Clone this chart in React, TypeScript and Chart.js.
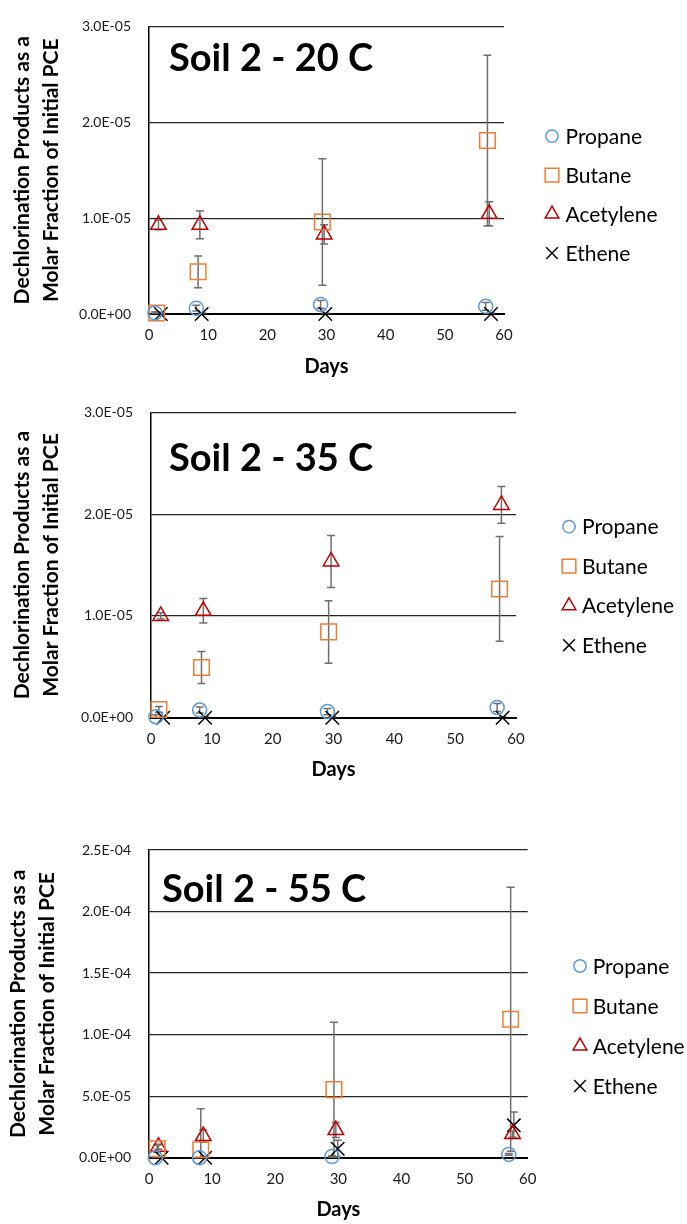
import React, { useEffect, useRef } from 'react';
import { Chart, registerables } from 'chart.js';
import { drawPoint } from 'chart.js/helpers';

Chart.register(...registerables);

const FONT = 'Lato';

// ---------- shared series info ----------
const seriesNames = ['Propane', 'Butane', 'Acetylene', 'Ethene'];
const seriesColors = ['#5B9BD5', '#ED7D31', '#C00000', '#000000'];
const seriesStyles = ['circle', 'rect', 'triangle', 'crossRot'];
const seriesRadius = [7, 11, 9, 9.5];

const xTickLabels = ['0', '10', '20', '30', '40', '50', '60'];
const yTitleLines = ['Dechlorination Products as a', 'Molar Fraction of Initial PCE'];

// ---------- Soil 2 - 20 C ----------
const yTicks20 = ['0.0E+00', '1.0E-05', '2.0E-05', '3.0E-05'];
const days20Propane = [1.0, 8.0, 29.0, 56.9];
const days20Butane = [1.3, 8.3, 29.3, 57.2];
const days20Acetylene = [1.6, 8.6, 29.6, 57.5];
const days20Ethene = [2.0, 8.9, 29.8, 57.8];
const propane20 = [1e-7, 6e-7, 1.0e-6, 8e-7];
const propane20Err = [1e-7, 3e-7, 4e-7, 4e-7];
const butane20 = [1e-7, 4.4e-6, 9.6e-6, 1.81e-5];
const butane20Err = [1e-7, 1.65e-6, 6.6e-6, 8.9e-6];
const acetylene20 = [9.3e-6, 9.3e-6, 8.3e-6, 1.045e-5];
const acetylene20Err = [5e-7, 1.45e-6, 1.0e-6, 1.25e-6];
const ethene20 = [0, 0, 0, 0];
const ethene20Err = [1e-7, 1e-7, 1e-7, 1e-7];

// ---------- Soil 2 - 35 C ----------
const yTicks35 = ['0.0E+00', '1.0E-05', '2.0E-05', '3.0E-05'];
const days35Propane = [0.8, 8.0, 29.0, 56.9];
const days35Butane = [1.3, 8.3, 29.2, 57.3];
const days35Acetylene = [1.6, 8.6, 29.6, 57.6];
const days35Ethene = [2.0, 8.9, 29.8, 57.8];
const propane35 = [1e-7, 7.5e-7, 6e-7, 1.0e-6];
const propane35Err = [2e-7, 3e-7, 3e-7, 4e-7];
const butane35 = [8e-7, 4.93e-6, 8.43e-6, 1.265e-5];
const butane35Err = [3e-7, 1.57e-6, 3.07e-6, 5.15e-6];
const acetylene35 = [1.0e-5, 1.05e-5, 1.535e-5, 2.09e-5];
const acetylene35Err = [3e-7, 1.2e-6, 2.55e-6, 1.8e-6];
const ethene35 = [0, 0, 0, 0];
const ethene35Err = [1e-7, 1e-7, 1e-7, 1e-7];

// ---------- Soil 2 - 55 C ----------
const yTicks55 = ['0.0E+00', '5.0E-05', '1.0E-04', '1.5E-04', '2.0E-04', '2.5E-04'];
const days55Propane = [1.0, 8.0, 29.0, 57.0];
const days55Butane = [1.3, 8.2, 29.3, 57.3];
const days55Acetylene = [1.5, 8.6, 29.6, 57.6];
const days55Ethene = [2.0, 8.9, 29.9, 57.8];
const propane55 = [0, 0, 1.0e-6, 2.7e-6];
const propane55Err = [3e-7, 3e-7, 5e-7, 8e-7];
const butane55 = [7.3e-6, 6.5e-6, 5.53e-5, 1.125e-4];
const butane55Err = [3e-6, 3.33e-5, 5.47e-5, 1.073e-4];
const acetylene55 = [8.9e-6, 1.76e-5, 2.25e-5, 1.92e-5];
const acetylene55Err = [2e-6, 5e-6, 6e-6, 2.5e-6];
const ethene55 = [0, 0, 7.3e-6, 2.63e-5];
const ethene55Err = [5e-7, 5e-7, 6.8e-6, 1.08e-5];

type Panel = {
  title: string;
  canvasTop: number;
  canvasHeight: number;
  area: { left: number; top: number; right: number; bottom: number };
  yMax: number;
  yStep: number;
  yTicks: string[];
  days: number[][];
  values: number[][];
  errors: number[][];
  titleDx: number;
  titleDy: number;
  yTitlePad: number;
  xTitlePad: number;
  legendDx: number;
  legendTextDx: number;
  legendDy: number;
  legendGap: number;
  legendFont: number;
};

const panels: Panel[] = [
  {
    title: 'Soil 2 - 20 C',
    canvasTop: 0,
    canvasHeight: 385,
    area: { left: 149, top: 17, right: 504, bottom: 314 },
    yMax: 3e-5,
    yStep: 1e-5,
    yTicks: yTicks20,
    days: [days20Propane, days20Butane, days20Acetylene, days20Ethene],
    values: [propane20, butane20, acetylene20, ethene20],
    errors: [propane20Err, butane20Err, acetylene20Err, ethene20Err],
    titleDx: 20,
    titleDy: 32,
    yTitlePad: 7.5,
    xTitlePad: 6,
    legendDx: 48,
    legendTextDx: 13.5,
    legendDy: 109.7,
    legendGap: 39,
    legendFont: 21,
  },
  {
    title: 'Soil 2 - 35 C',
    canvasTop: 385,
    canvasHeight: 405,
    area: { left: 151, top: 412.3, right: 516, bottom: 717.7 },
    yMax: 3e-5,
    yStep: 1e-5,
    yTicks: yTicks35,
    days: [days35Propane, days35Butane, days35Acetylene, days35Ethene],
    values: [propane35, butane35, acetylene35, ethene35],
    errors: [propane35Err, butane35Err, acetylene35Err, ethene35Err],
    titleDx: 18,
    titleDy: 46.7,
    yTitlePad: 8,
    xTitlePad: 8,
    legendDx: 53,
    legendTextDx: 13,
    legendDy: 114.4,
    legendGap: 39.5,
    legendFont: 21,
  },
  {
    title: 'Soil 2 - 55 C',
    canvasTop: 790,
    canvasHeight: 434,
    area: { left: 149, top: 850, right: 527.7, bottom: 1157.7 },
    yMax: 2.5e-4,
    yStep: 5e-5,
    yTicks: yTicks55,
    days: [days55Propane, days55Butane, days55Acetylene, days55Ethene],
    values: [propane55, butane55, acetylene55, ethene55],
    errors: [propane55Err, butane55Err, acetylene55Err, ethene55Err],
    titleDx: 13,
    titleDy: 40,
    yTitlePad: 3.7,
    xTitlePad: 2,
    legendDx: 52.3,
    legendTextDx: 12.7,
    legendDy: 116,
    legendGap: 40,
    legendFont: 21,
  },
];

const errorBarPlugin = {
  id: 'errorBars',
  beforeDatasetsDraw(chart: any, _args: any, opts: any) {
    const { ctx, chartArea, scales } = chart;
    ctx.save();
    ctx.beginPath();
    ctx.rect(chartArea.left, chartArea.top, chartArea.right - chartArea.left, chartArea.bottom - chartArea.top);
    ctx.clip();
    ctx.strokeStyle = opts.color;
    ctx.lineWidth = opts.width;
    const cap = opts.cap;
    chart.data.datasets.forEach((ds: any) => {
      const errs: number[] = ds.errorBars;
      if (!errs) return;
      ds.data.forEach((p: any, i: number) => {
        const e = errs[i];
        const x = scales.x.getPixelForValue(p.x);
        const yTop = scales.y.getPixelForValue(p.y + e);
        const yBot = scales.y.getPixelForValue(p.y - e);
        ctx.beginPath();
        ctx.moveTo(x, yBot);
        ctx.lineTo(x, yTop);
        ctx.moveTo(x - cap, yTop);
        ctx.lineTo(x + cap, yTop);
        ctx.moveTo(x - cap, yBot);
        ctx.lineTo(x + cap, yBot);
        ctx.stroke();
      });
    });
    ctx.restore();
  },
};

const panelTitlePlugin = {
  id: 'panelTitle',
  afterDraw(chart: any, _args: any, opts: any) {
    const { ctx, chartArea } = chart;
    ctx.save();
    ctx.font = `bold ${opts.size}px ${FONT}`;
    ctx.fillStyle = '#000';
    ctx.textAlign = 'left';
    ctx.textBaseline = 'middle';
    ctx.fillText(opts.text, chartArea.left + opts.dx, chartArea.top + opts.dy);
    ctx.restore();
  },
};

const sideLegendPlugin = {
  id: 'sideLegend',
  afterDraw(chart: any, _args: any, opts: any) {
    const { ctx, chartArea } = chart;
    ctx.save();
    chart.data.datasets.forEach((ds: any, i: number) => {
      const y = chartArea.top + opts.dy + i * opts.gap;
      const mx = chartArea.right + opts.dx;
      ctx.strokeStyle = ds.borderColor;
      ctx.fillStyle = 'rgba(0,0,0,0)';
      ctx.lineWidth = 1.5;
      drawPoint(ctx, { pointStyle: ds.pointStyle, radius: ds.pointRadius * 0.88, rotation: 0, borderWidth: 1.5 } as any, mx, y);
      ctx.fillStyle = '#000';
      ctx.font = `${opts.size}px ${FONT}`;
      ctx.textAlign = 'left';
      ctx.textBaseline = 'middle';
      ctx.fillText(ds.label, mx + opts.textDx, y + 1);
    });
    ctx.restore();
  },
};

function PanelChart({ panel }: { panel: Panel }) {
  const ref = useRef<HTMLCanvasElement | null>(null);

  useEffect(() => {
    if (!ref.current) return;
    const p = panel;
    const datasets = seriesNames.map((name, s) => ({
      label: name,
      data: p.days[s].map((d, i) => ({ x: d, y: p.values[s][i] })),
      errorBars: p.errors[s],
      showLine: false,
      clip: false,
      pointStyle: seriesStyles[s],
      pointRadius: seriesRadius[s],
      pointHoverRadius: seriesRadius[s],
      pointBorderWidth: 1.5,
      borderColor: seriesColors[s],
      pointBorderColor: seriesColors[s],
      backgroundColor: 'rgba(0,0,0,0)',
      pointBackgroundColor: 'rgba(0,0,0,0)',
    }));

    const chart = new Chart(ref.current, {
      type: 'scatter',
      data: { datasets: datasets as any },
      plugins: [errorBarPlugin, panelTitlePlugin, sideLegendPlugin],
      options: {
        responsive: false,
        animation: false,
        layout: {
          padding: {
            top: p.area.top - p.canvasTop,
            right: 687 - p.area.right,
            bottom: 0,
            left: 0,
          },
        },
        plugins: {
          legend: { display: false },
          tooltip: { enabled: false },
          errorBars: { color: '#6f6f6f', width: 1.5, cap: 4 },
          panelTitle: { text: p.title, size: 38, dx: p.titleDx, dy: p.titleDy },
          sideLegend: { dx: p.legendDx, textDx: p.legendTextDx, dy: p.legendDy, gap: p.legendGap, size: p.legendFont },
        } as any,
        scales: {
          x: {
            type: 'linear',
            position: 'bottom',
            min: 0,
            max: 60,
            ticks: {
              stepSize: 10,
              padding: 12.6,
              color: '#1a1a1a',
              font: { family: FONT, size: 15 },
              callback: (_v: any, i: number) => xTickLabels[i] ?? '',
            },
            grid: { display: false, drawTicks: false },
            border: { display: true, color: '#000', width: 2 },
            title: {
              display: true,
              text: 'Days',
              color: '#000',
              font: { family: FONT, size: 20, weight: 'bold', lineHeight: 1.2 },
              padding: { top: 0, bottom: p.xTitlePad },
            },
            afterFit: (s: any) => {
              s.height = p.canvasTop + p.canvasHeight - p.area.bottom;
            },
          },
          y: {
            type: 'linear',
            min: 0,
            max: p.yMax,
            ticks: {
              stepSize: p.yStep,
              padding: 18,
              color: '#1a1a1a',
              font: { family: FONT, size: 14 },
              callback: (_v: any, i: number) => p.yTicks[i] ?? '',
            },
            grid: { color: '#262626', lineWidth: 1.2, drawTicks: false },
            border: { display: true, color: '#000', width: 1.5 },
            title: {
              display: true,
              text: yTitleLines,
              color: '#000',
              font: { family: FONT, size: 21, weight: 'bold', lineHeight: 1.38 },
              padding: { top: p.yTitlePad, bottom: 0 },
            },
            afterFit: (s: any) => {
              s.width = p.area.left;
            },
          },
        } as any,
      },
    });
    return () => chart.destroy();
  }, [panel]);

  return (
    <canvas
      ref={ref}
      width={687}
      height={panel.canvasHeight}
      style={{ position: 'absolute', left: 0, top: panel.canvasTop, width: 687, height: panel.canvasHeight }}
    />
  );
}

export default function App() {
  return (
    <div style={{ position: 'absolute', left: 0, top: 0, width: 687, height: 1224, background: '#fff' }}>
      {panels.map((p) => (
        <PanelChart key={p.title} panel={p} />
      ))}
    </div>
  );
}
